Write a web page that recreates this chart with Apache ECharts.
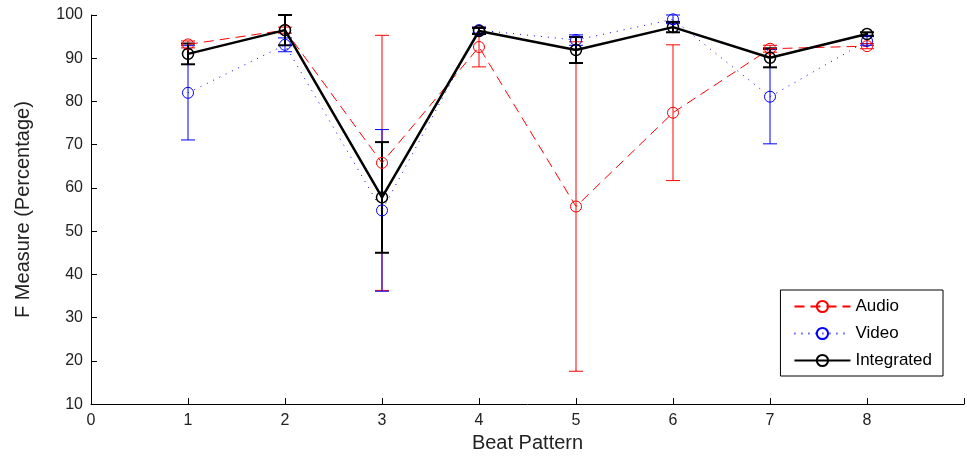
<!DOCTYPE html>
<html><head><meta charset="utf-8">
<script src="https://cdn.jsdelivr.net/npm/echarts@6/dist/echarts.min.js"></script>
<style>html,body{margin:0;padding:0;background:#fff}#c{width:967px;height:458px}</style>
</head><body><div id="c"></div>
<script>
var patterns = [1, 2, 3, 4, 5, 6, 7, 8];
var audioMean = [93.2, 96.5, 65.8, 92.6, 55.7, 77.4, 92.2, 92.8];
var audioErr = [0.8, 0.7, 29.5, 4.6, 38.1, 15.7, 0.8, 0.6];
var videoMean = [82.0, 93.1, 54.8, 96.5, 94.2, 99.0, 81.1, 94.0];
var videoErr = [10.9, 1.6, 18.7, 0.7, 1.2, 1.0, 10.9, 1.0];
var intMean = [91.0, 96.5, 57.8, 96.3, 91.9, 97.2, 90.1, 95.6];
var intErr = [2.4, 3.5, 12.8, 0.7, 3.0, 1.2, 2.2, 0.4];
var yTicks = [10, 20, 30, 40, 50, 60, 70, 80, 90, 100];
var xTicks = [0, 1, 2, 3, 4, 5, 6, 7, 8];

var FONT = 'Liberation Sans';
function pts(m) { return patterns.map(function (x, i) { return [x, m[i]]; }); }
function errData(m, e) { return patterns.map(function (x, i) { return [x, m[i] - e[i], m[i] + e[i]]; }); }
function errSeries(m, e, color, w) {
  return {
    type: 'custom', silent: true, z: 1,
    data: errData(m, e),
    encode: { x: 0, y: [1, 2] },
    renderItem: function (params, api) {
      var lo = api.coord([api.value(0), api.value(1)]);
      var hi = api.coord([api.value(0), api.value(2)]);
      var hw = 7;
      var st = { stroke: color, lineWidth: w, fill: null };
      return { type: 'group', children: [
        { type: 'line', shape: { x1: lo[0], y1: lo[1], x2: hi[0], y2: hi[1] }, style: st },
        { type: 'line', shape: { x1: lo[0] - hw, y1: lo[1], x2: lo[0] + hw, y2: lo[1] }, style: st },
        { type: 'line', shape: { x1: hi[0] - hw, y1: hi[1], x2: hi[0] + hw, y2: hi[1] }, style: st }
      ] };
    }
  };
}
var chart = echarts.init(document.getElementById('c'), null, { renderer: 'canvas' });
chart.setOption({
  animation: false,
  backgroundColor: '#fff',
  textStyle: { fontFamily: FONT },
  grid: { left: 91, right: 0, top: 15, bottom: 53 },
  legend: {
    orient: 'vertical', right: 24, bottom: 82,
    backgroundColor: '#fff', borderColor: '#000', borderWidth: 1,
    padding: [8, 11, 7, 13], itemGap: 10, itemWidth: 56, itemHeight: 14,
    textStyle: { fontFamily: FONT, fontSize: 17, color: '#000' },
    data: ['Audio', 'Video', 'Integrated']
  },
  xAxis: {
    type: 'value', min: 0, max: 9, interval: 1,
    name: 'Beat Pattern', nameLocation: 'middle', nameGap: 24,
    nameTextStyle: { fontFamily: FONT, fontSize: 20, color: '#222' },
    axisLine: { show: true, onZero: false, lineStyle: { color: '#000', width: 1 } },
    axisTick: { show: true, inside: true, length: 6, lineStyle: { color: '#000' } },
    axisLabel: { fontFamily: FONT, fontSize: 16, color: '#222', margin: 8,
      formatter: function (v) { return xTicks.indexOf(v) >= 0 ? String(v) : ''; } },
    splitLine: { show: false }
  },
  yAxis: {
    type: 'value', min: 10, max: 100, interval: 10,
    name: 'F Measure (Percentage)', nameLocation: 'middle', nameGap: 58,
    nameTextStyle: { fontFamily: FONT, fontSize: 20, color: '#222' },
    axisLine: { show: true, onZero: false, lineStyle: { color: '#000', width: 1 } },
    axisTick: { show: true, inside: true, length: 6, lineStyle: { color: '#000' } },
    axisLabel: { fontFamily: FONT, fontSize: 16, color: '#222', margin: 8,
      formatter: function (v) { return yTicks.indexOf(v) >= 0 ? String(v) : ''; } },
    splitLine: { show: false }
  },
  series: [
    errSeries(audioMean, audioErr, '#ff0000', 1),
    { name: 'Audio', type: 'line', data: pts(audioMean), z: 2,
      symbol: 'circle', symbolSize: 11, showAllSymbol: true,
      itemStyle: { color: 'rgba(255,255,255,0)', borderColor: '#ff0000', borderWidth: 1 },
      lineStyle: { color: '#ff0000', width: 1, type: [10, 6] } },
    errSeries(videoMean, videoErr, '#0000ff', 1),
    { name: 'Video', type: 'line', data: pts(videoMean), z: 3,
      symbol: 'circle', symbolSize: 11,
      itemStyle: { color: 'rgba(255,255,255,0)', borderColor: '#0000ff', borderWidth: 1 },
      lineStyle: { color: '#0000ff', width: 1, type: [1, 6] } },
    errSeries(intMean, intErr, '#000000', 2),
    { name: 'Integrated', type: 'line', data: pts(intMean), z: 4,
      symbol: 'circle', symbolSize: 11,
      itemStyle: { color: 'rgba(255,255,255,0)', borderColor: '#000', borderWidth: 1.5 },
      lineStyle: { color: '#000', width: 2.5, type: 'solid' } }
  ]
});
</script></body></html>
